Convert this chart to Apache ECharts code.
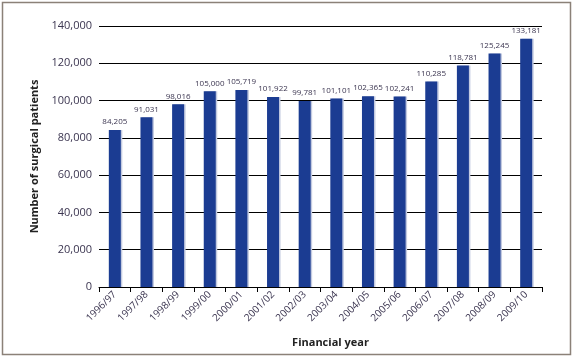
<!DOCTYPE html>
<html><head><meta charset="utf-8">
<script src="https://cdn.jsdelivr.net/npm/echarts@6/dist/echarts.min.js"></script>
<style>html,body{margin:0;padding:0;background:#fff}#c{width:574px;height:358px}</style>
</head><body><div id="c"></div>
<script>
const categories = ['1996/97','1997/98','1998/99','1999/00','2000/01','2001/02','2002/03','2003/04','2004/05','2005/06','2006/07','2007/08','2008/09','2009/10'];
const patients = [84205,91031,98016,105000,105719,101922,99781,101101,102365,102241,110285,118781,125245,133181];
const yTicks = {min:0, max:140000, interval:20000};
const chart = echarts.init(document.getElementById('c'));
const fontFam = '"Open Sans","Noto Sans",sans-serif';
chart.setOption({
  animation:false,
  graphic:[{type:'rect',shape:{x:2.5,y:2.5,width:568,height:352},style:{fill:'none',stroke:'#8b8178',lineWidth:1.5}}],
  grid:{left:99,right:32,top:26,bottom:71},
  xAxis:{type:'category',data:categories,boundaryGap:true,
    name:'Financial year',nameLocation:'middle',nameGap:50,
    nameTextStyle:{fontFamily:fontFam,fontSize:11,fontWeight:'bold',color:'#222',padding:[0,0,0,20]},
    axisLine:{lineStyle:{color:'#000',width:1}},
    axisTick:{show:true,length:5,lineStyle:{color:'#000'},alignWithLabel:false},
    axisLabel:{rotate:45,fontFamily:fontFam,fontSize:10,color:'#3b3550',margin:6,interval:0}},
  yAxis:{type:'value',min:yTicks.min,max:yTicks.max,interval:yTicks.interval,
    name:'Number of surgical patients',nameLocation:'middle',nameGap:58,
    nameTextStyle:{fontFamily:fontFam,fontSize:11,fontWeight:'bold',color:'#222'},
    axisLine:{show:false},axisTick:{show:false},
    splitLine:{lineStyle:{color:'#000',width:1}},
    axisLabel:{fontFamily:fontFam,fontSize:11,color:'#3b3550',margin:7,
      formatter:v=>v.toLocaleString('en-US')}},
  series:[{type:'bar',data:patients,barWidth:12,
    itemStyle:{color:'#1b3c92',shadowColor:'#c3cae0',shadowOffsetX:1.5,shadowBlur:0},
    label:{show:true,position:'top',distance:4,fontFamily:fontFam,fontSize:8,color:'#3b3550',
      formatter:p=>p.value.toLocaleString('en-US')}}]
});
</script></body></html>
